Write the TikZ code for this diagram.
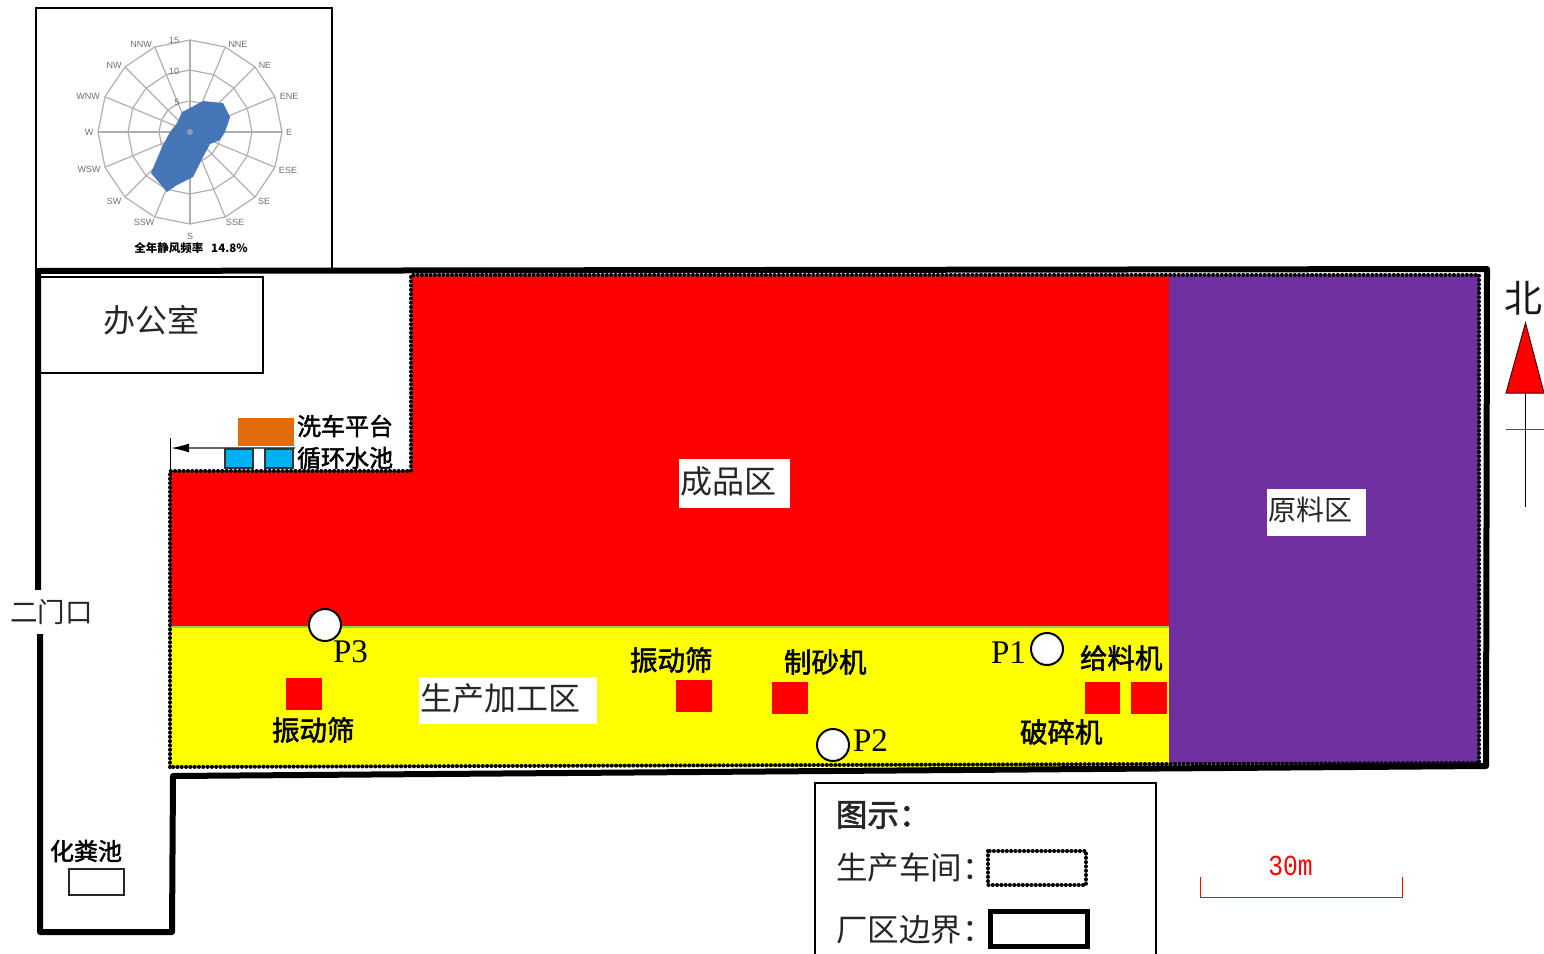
\documentclass[tikz,border=0pt]{standalone}
\usepackage{fontspec}
\setmainfont{Liberation Serif}
\newfontfamily\cjk{Noto Sans CJK SC}
\newfontfamily\cjkb[FakeBold=2]{Noto Sans CJK SC}
\newfontfamily\arialf{Liberation Sans}
\newfontfamily\monof{Liberation Mono}
\usetikzlibrary{arrows.meta}
\definecolor{rosegray}{RGB}{175,175,175}
\definecolor{rosetext}{RGB}{110,110,110}
\definecolor{roseblue}{RGB}{68,118,184}
\definecolor{purplezone}{RGB}{112,48,160}
\definecolor{orangezone}{RGB}{226,107,10}
\definecolor{bluezone}{RGB}{0,176,240}
\definecolor{greenline}{RGB}{146,208,80}
\definecolor{yellowzone}{RGB}{255,255,0}
\definecolor{redzone}{RGB}{255,0,0}
\newcommand{\fs}[1]{\fontsize{#1}{#1}\selectfont}
\tikzset{
  x=1pt,y=-1pt,
  every node/.style={inner sep=0pt,outer sep=0pt},
  boundaryline/.style={draw=black,line width=6pt,line join=round,line cap=round},
  dottedline/.style={draw=black,line width=4pt,line cap=round,dash pattern=on 0.1pt off 4.2pt},
  thinbox/.style={draw=black,line width=2pt},
  machine/.style={fill=redzone,draw=none},
  pool/.style={fill=bluezone,draw=black!80,line width=2pt},
  bigzh/.style={font=\cjk\fs{32},text=black!85},
  midzh/.style={font=\cjk\fs{27.5},text=black!85},
  whitetag/.style={fill=white,draw=none,inner sep=0pt},
  boldzh/.style={font=\cjkb\fs{#1},text=black},
  plabel/.style={font=\fs{33},text=black},
  monitor/.style={circle,draw=black,fill=white,line width=2pt,minimum size=32pt},
  legendzh/.style={font=\cjk\fs{31.5},text=black!85,anchor=west},
  roselab/.style={font=\arialf\fs{9},text=rosetext},
}
\begin{document}
\begin{tikzpicture}
\useasboundingbox (0,0) rectangle (1544,953);
% wind rose box
\draw[thinbox] (36,8) rectangle (332,270);
\begin{scope}[shift={(190,132)}]
  \foreach \a in {0,22.5,...,337.5} \draw[rosegray,line width=1.2pt] (0,0) -- (\a:92);
  \foreach \r in {31,62,92} {
    \draw[rosegray,line width=1.2pt] (0:\r) \foreach \a in {22.5,45,...,337.5} { -- (\a:\r) } -- cycle;
  }
\end{scope}
\fill[roseblue] (203,101) -- (223,103) -- (230,117) -- (225,132) -- (220,140) -- (210,144) -- (203,157)
  -- (193,177) -- (177,185) -- (167,192) -- (151,173) -- (162,147) -- (170,132) -- (177,123) -- (182,112) -- (190,108) -- cycle;
\fill[rosegray!70!roseblue] (190,132) circle (3);
\node[roselab] (r15) at (174,40) {15};
\node[roselab] (r10) at (174,71) {10};
\node[roselab] (r5) at (177,102) {5};
\node[roselab] (r0) at (176,133) {0};
\node[roselab] (nnw) at (141,44) {NNW};
\node[roselab] (nne) at (238,44) {NNE};
\node[roselab] (nw) at (114,65) {NW};
\node[roselab] (ne) at (265,65) {NE};
\node[roselab] (wnw) at (88,96) {WNW};
\node[roselab] (ene) at (289,96) {ENE};
\node[roselab] (w) at (89,132) {W};
\node[roselab] (e) at (289,132) {E};
\node[roselab] (wsw) at (89,169) {WSW};
\node[roselab] (ese) at (288,170) {ESE};
\node[roselab] (sw) at (114,201) {SW};
\node[roselab] (se) at (264,201) {SE};
\node[roselab] (ssw) at (144,222) {SSW};
\node[roselab] (sse) at (235,222) {SSE};
\node[roselab] (s) at (190,236) {S};
\node[font=\cjk\bfseries\fs{11.5}] (rosecap) at (191,248) {全年静风频率\ \ \ 14.8\%};
% zones
\fill[redzone] (170,471) -- (412,471) -- (412,276) -- (1169,276) -- (1169,627) -- (170,627) -- cycle;
\fill[yellowzone] (170,627) rectangle (1169,767);
\draw[greenline,line width=1.5pt] (170,627) -- (1169,627);
\draw[greenline,line width=1pt] (1169,627) -- (1169,764);
\fill[purplezone] (1169,276) rectangle (1479,763);
% factory boundary
\draw[boundaryline] (38,590) -- (38,271) -- (1487,269) -- (1486,766) -- (173,776) -- (172,932) -- (40,932) -- (40,634);
% workshop dotted boundary
\draw[dottedline] (170,767) -- (170,471) -- (411,471) -- (411,275) -- (1479,275) -- (1479,763) -- cycle;
% office
\draw[thinbox] (39,277) rectangle (263,373);
\node[bigzh] (office) at (151.5,320) {办公室};
% wash platform
\fill[orangezone] (238,418) rectangle (294,446);
\coordinate (arrowstart) at (295,448);
\coordinate (arrowend) at (171,448);
\coordinate (ticktop) at (170,438);
\coordinate (tickbot) at (170,471);
\draw[black!60,line width=1.5pt,-{Latex[length=18pt,width=9pt,black]}] (arrowstart) -- (arrowend);
\draw[black,line width=1pt] (ticktop) -- (tickbot);
\draw[pool] (225,449) rectangle (253,468);
\draw[pool] (265,449) rectangle (293,468);
\node[boldzh=24,anchor=west] (wash) at (297,426) {洗车平台};
\node[boldzh=24,anchor=west] (pool) at (297,458) {循环水池};
% gate
\fill[white] (34,590) rectangle (44,634);
\node[midzh,anchor=west] (gate) at (10,612) {二门口};
% zone labels
\node[whitetag,minimum width=111pt,minimum height=49pt] (product) at (734.5,483.5) {};
\node[bigzh,anchor=west] (productt) at (680,481) {成品区};
\node[whitetag,minimum width=99pt,minimum height=47pt] (raw) at (1316.5,512.5) {};
\node[font=\cjk\fs{28},text=black!85,anchor=west] (rawt) at (1268,510) {原料区};
\node[whitetag,minimum width=178pt,minimum height=47pt] (prod) at (508,700.5) {};
\node[bigzh,anchor=west] (prodt) at (420,698) {生产加工区};
% machines
\fill[machine] (286,678) rectangle (322,710);
\fill[machine] (676,680) rectangle (712,712);
\fill[machine] (772,682) rectangle (808,714);
\fill[machine] (1085,682) rectangle (1120,714);
\fill[machine] (1131,682) rectangle (1167,714);
\node[boldzh=27.5,anchor=west] (s1) at (272,730) {振动筛};
\node[boldzh=27.5,anchor=west] (s2) at (630,660) {振动筛};
\node[boldzh=27.5,anchor=west] (m1) at (784,662) {制砂机};
\node[boldzh=27.5,anchor=west] (f1) at (1080,658) {给料机};
\node[boldzh=27.5,anchor=west] (c1) at (1020,732) {破碎机};
% monitoring points
\node[monitor] (P3c) at (325,625) {};
\node[monitor] (P2c) at (833,745) {};
\node[monitor] (P1c) at (1047,649) {};
\node[plabel,anchor=west] (P3) at (333,652) {P3};
\node[plabel,anchor=west] (P2) at (853,741) {P2};
\node[plabel,anchor=west] (P1) at (991,653) {P1};
% septic tank
\node[boldzh=24,anchor=west] (septic) at (50,851) {化粪池};
\draw[black!85,line width=2pt] (69,869) rectangle (124,895);
% legend
\draw[thinbox] (815,960) -- (815,783) -- (1156,783) -- (1156,960);
\node[legendzh,font=\cjkb\fs{31.5}] (lgd) at (836,815) {图示：};
\node[legendzh] (lg1) at (836,868) {生产车间：};
\draw[dottedline] (988,851) rectangle (1086,885);
\node[legendzh] (lg2) at (836,930) {厂区边界：};
\draw[draw=black,line width=4.5pt] (990.5,911.5) rectangle (1087.5,946.5);
% scale bar
\draw[red,line width=1pt] (1200.5,877) -- (1200.5,897) -- (1402,897) -- (1402,877);
\node[font=\monof\fs{29},text=red,xscale=.85] (scale) at (1290.5,866) {30m};
% north arrow
\node[font=\cjk\fs{38},text=black!90] (north) at (1523,298) {北};
\filldraw[fill=redzone,draw=black!70!red,line width=1pt] (1525.5,323) -- (1544,393) -- (1506,393) -- cycle;
\draw[black,line width=1pt] (1525.5,393) -- (1525.5,507);
\draw[black!70,line width=1pt] (1506,429) -- (1544,429);
\end{tikzpicture}
\end{document}
